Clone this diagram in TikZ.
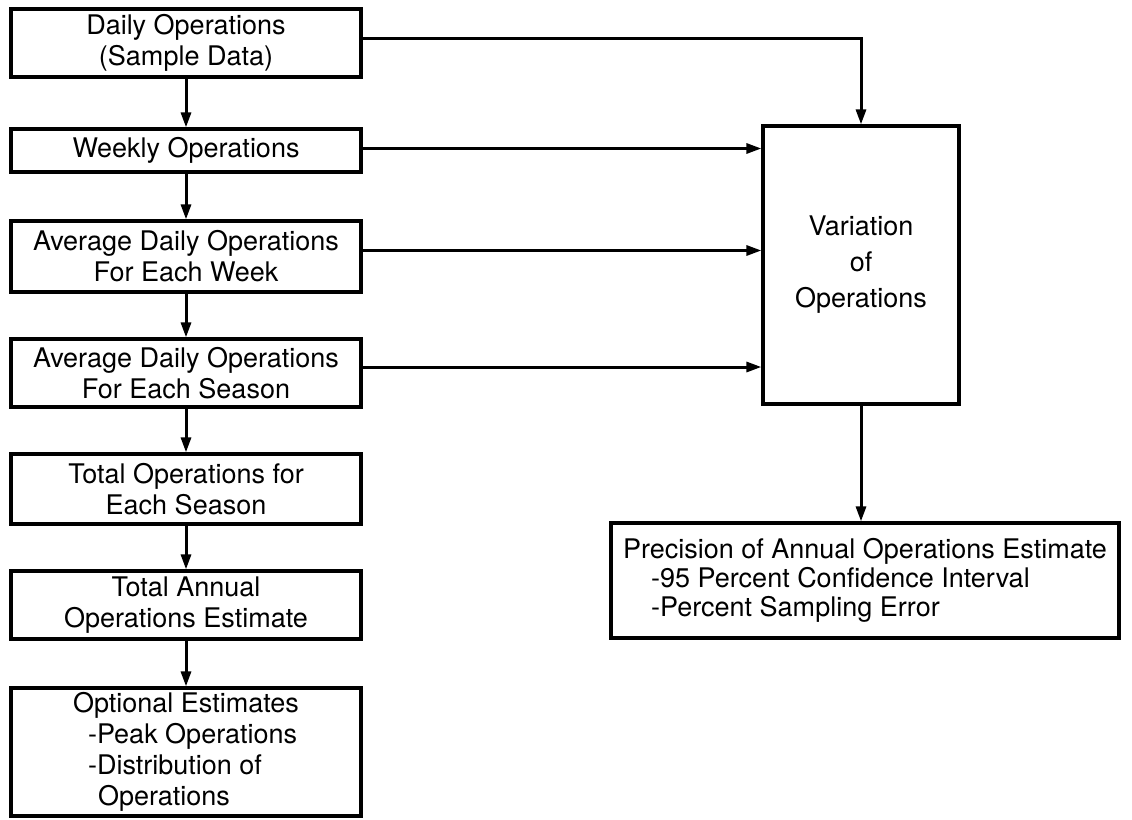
\documentclass[tikz,border=0pt]{standalone}
\usepackage{fontspec}
\setmainfont{TeX Gyre Heros}
\usetikzlibrary{arrows.meta,positioning}
\tikzset{>={Stealth[length=15pt,width=10pt,inset=0pt]}}
\tikzset{box/.style={draw,line width=3.2pt,align=center,inner sep=0pt,
    font=\fontsize{27}{31}\selectfont},
  flow/.style={->,line width=3pt}}

\begin{document}
\begin{tikzpicture}[x=1pt,y=-1pt]
\useasboundingbox (0,0) rectangle (1132,819);

  \node[box,minimum width=350pt,minimum height=68pt] (daily) at (186,43) {Daily Operations\\(Sample Data)};
  \node[box,minimum width=350pt,minimum height=43pt] (weekly) at (186,150.5) {Weekly Operations};
  \node[box,minimum width=350pt,minimum height=71pt] (avgweek) at (186,256.5) {Average Daily Operations\\For Each Week};
  \node[box,minimum width=350pt,minimum height=68pt] (avgseason) at (186,373) {Average Daily Operations\\For Each Season};
  \node[box,minimum width=350pt,minimum height=70pt] (totseason) at (186,489) {Total Operations for\\Each Season};
  \node[box,minimum width=350pt,minimum height=68pt] (annual) at (186,605) {Total Annual\\Operations Estimate};
  \node[box,align=left,minimum width=350pt,minimum height=128pt] (optional) at (186,752)
    {Optional Estimates\\\hspace*{15pt}-Peak Operations\\\hspace*{15pt}-Distribution of\\\hspace*{25pt}Operations};

  \node[box,font=\fontsize{27}{36}\selectfont,minimum width=196pt,minimum height=278pt] (var) at (861,265) {Variation\\of\\Operations};
  \node[box,align=left,font=\fontsize{27}{29}\selectfont,minimum width=508pt,minimum height=115pt] (prec) at (865,580.5)
    {Precision of Annual Operations Estimate\\\hspace*{28pt}-95 Percent Confidence Interval\\\hspace*{28pt}-Percent Sampling Error};

  % down the left column
  \draw[flow] (daily) -- (weekly);
  \draw[flow] (weekly) -- (avgweek);
  \draw[flow] (avgweek) -- (avgseason);
  \draw[flow] (avgseason) -- (totseason);
  \draw[flow] (totseason) -- (annual);
  \draw[flow] (annual) -- (optional);

  % into the variation box
  \draw[flow] ([yshift=5pt]daily.east) -| (var.north);
  \draw[flow] ([yshift=2pt]weekly.east) -- ([yshift=2pt]weekly.east -| var.west);
  \draw[flow] ([yshift=6pt]avgweek.east) -- ([yshift=6pt]avgweek.east -| var.west);
  \draw[flow] ([yshift=6pt]avgseason.east) -- ([yshift=6pt]avgseason.east -| var.west);
  \draw[flow] (var.south) -- (var.south |- prec.north);

\end{tikzpicture}
\end{document}
